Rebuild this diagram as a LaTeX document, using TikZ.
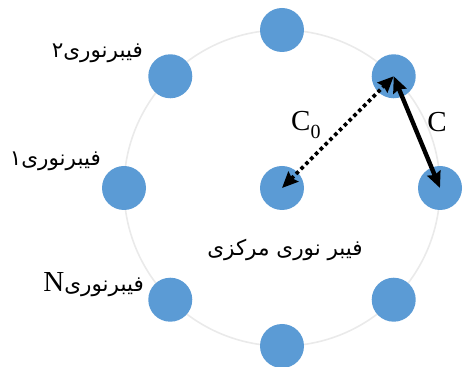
\documentclass[tikz,border=0pt]{standalone}
\usepackage{fontspec}
\setmainfont{Liberation Serif}
\newfontfamily\arabicfont[Script=Arabic]{DejaVu Sans}
\TeXXeTstate=1
\usetikzlibrary{arrows.meta}
\definecolor{fibblue}{HTML}{5B9BD5}
\definecolor{ringgray}{HTML}{EAEAEA}
\tikzset{
  fib/.style={circle, fill=fibblue, minimum size=44pt, inner sep=0pt},
  fa/.style={font=\arabicfont\fontsize{21.5}{24}\selectfont, inner sep=0pt},
  lat/.style={font=\fontsize{29}{32}\selectfont, inner sep=0pt},
  arr/.style={line width=4.4pt, {Stealth[length=16pt,width=14pt,inset=2pt]}-{Stealth[length=16pt,width=14pt,inset=2pt]}},
  darr/.style={line width=3.6pt, dash pattern=on 3.6pt off 3.2pt, {Stealth[length=16pt,width=14pt,inset=2pt]}-{Stealth[length=16pt,width=14pt,inset=2pt]}}
}
\begin{document}
\begin{tikzpicture}[x=1pt,y=1pt]
\useasboundingbox (0,0) rectangle (464,367);
\begin{scope}[shift={(282,179)}]
  \draw[ringgray, line width=1.6pt] (0,0) circle (158pt);
  \node[fib] (nc) at (0,0) {};
  \node[fib] (n90) at (90:158) {};
  \node[fib] (n45) at (45:158) {};
  \node[fib] (n0) at (0:158) {};
  \node[fib] (n315) at (-45:158) {};
  \node[fib] (n270) at (-90:158) {};
  \node[fib] (n225) at (-135:158) {};
  \node[fib] (n180) at (180:158) {};
  \node[fib] (n135) at (135:158) {};
\end{scope}
\draw[arr] (n45.center) -- (n0.center);
\draw[darr] (nc.center) -- (n45.center);
\node[lat] (lc) at (437,245) {C};
\node[lat, anchor=west] (lc0) at (291,242) {C\raisebox{-0.3em}{\fontsize{20}{22}\selectfont 0}};
\node[fa, anchor=east] (l2) at (143,314) {\beginR فیبرنوری۲\endR};
\node[fa, anchor=east] (l1) at (101,206) {\beginR فیبرنوری۱\endR};
\node[fa, anchor=east] (lN) at (144,82) {{\rmfamily\fontsize{29}{32}\selectfont N}\beginR فیبرنوری\endR};
\node[fa] (lm) at (285,117) {\beginR فیبر نوری مرکزی\endR};
\end{tikzpicture}
\end{document}
